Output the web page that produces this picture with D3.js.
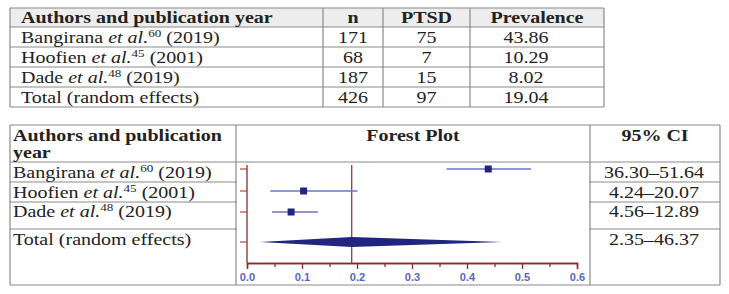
<!DOCTYPE html>
<html lang="en">
<head>
<meta charset="UTF-8" />
<title>Forest plot</title>
<style>
  body { margin: 0; background: #fff; }
  text { font-family: "Liberation Serif", serif; }
  .tick text { font-family: "Liberation Sans", sans-serif; font-weight: bold; }
</style>
</head>
<body>
<div class="chart"></div>
<script src="https://d3js.org/d3.v7.min.js"></script>
<script>
// data
const authors = ['Bangirana', 'Hoofien', 'Dade']
const refs = ['60', '45', '48']
const years = ['2019', '2001', '2019']
const nValues = [171, 68, 187]
const ptsdValues = [75, 7, 15]
const prevalence = [43.86, 10.29, 8.02]
const ciLow = [36.30, 4.24, 4.56]
const ciHigh = [51.64, 20.07, 12.89]
const totalLabel = 'Total (random effects)'
const totalN = 426
const totalPtsd = 97
const totalPrev = 19.04
const totalLow = 2.35
const totalHigh = 46.37
const xTicks = [0, 0.1, 0.2, 0.3, 0.4, 0.5, 0.6]

const width = 729
const height = 294
const lineColor = '#8a8a8a'
const axisColor = '#8b2a2a'
const navy = '#1f2580'

const svg = d3.select('.chart').append('svg')
  .attr('width', width)
  .attr('height', height)

const fs = 16
const sx = 1.25 // the source text is a little wider than the font

// draw a label with italic "et al." and superscript ref
const studyLabel = (g, i, x, y) => {
  const t = g.append('text')
    .attr('transform', `translate(${x},${y}) scale(${sx},1)`)
    .attr('font-size', fs)
    .attr('fill', '#222')
  t.append('tspan').text(authors[i] + ' ')
  t.append('tspan').attr('font-style', 'italic').text('et al.')
  t.append('tspan').attr('font-size', 10.5).attr('dy', -6).text(refs[i])
  t.append('tspan').attr('dy', 6).text(` (${years[i]})`)
}

const cellText = (g, txt, x, y, opts = {}) => {
  return g.append('text')
    .attr('transform', `translate(${x},${y}) scale(${sx},1)`)
    .attr('text-anchor', opts.anchor || 'start')
    .attr('font-size', fs)
    .attr('font-weight', opts.bold ? 'bold' : 'normal')
    .attr('fill', '#222')
    .text(txt)
}

// ===== top table =====
const topG = svg.append('g')
const tCols = [10, 323, 383, 470, 604]
const tRows = [8, 27, 47, 67, 87, 107]

topG.append('rect')
  .attr('x', tCols[0]).attr('y', tRows[0])
  .attr('width', tCols[4] - tCols[0]).attr('height', tRows[1] - tRows[0])
  .attr('fill', '#ededed')

tRows.forEach(y => {
  topG.append('line').attr('x1', tCols[0]).attr('x2', tCols[4])
    .attr('y1', y).attr('y2', y).attr('stroke', lineColor).attr('stroke-width', 1.2)
})
tCols.forEach(x => {
  topG.append('line').attr('x1', x).attr('x2', x)
    .attr('y1', tRows[0]).attr('y2', tRows[5]).attr('stroke', lineColor).attr('stroke-width', 1.2)
})

const mid = i => (tCols[i] + tCols[i + 1]) / 2
const prevX = 526
cellText(topG, 'Authors and publication year', 21, 23, { bold: true })
cellText(topG, 'n', mid(1), 23, { bold: true, anchor: 'middle' })
cellText(topG, 'PTSD', mid(2), 23, { bold: true, anchor: 'middle' })
cellText(topG, 'Prevalence', mid(3), 23, { bold: true, anchor: 'middle' })

authors.forEach((a, i) => {
  const y = tRows[i + 1] + 16
  studyLabel(topG, i, 21, y)
  cellText(topG, nValues[i], mid(1), y, { anchor: 'middle' })
  cellText(topG, ptsdValues[i], mid(2), y, { anchor: 'middle' })
  cellText(topG, prevalence[i].toFixed(2), prevX, y, { anchor: 'middle' })
})
cellText(topG, totalLabel, 21, tRows[4] + 16)
cellText(topG, totalN, mid(1), tRows[4] + 16, { anchor: 'middle' })
cellText(topG, totalPtsd, mid(2), tRows[4] + 16, { anchor: 'middle' })
cellText(topG, totalPrev.toFixed(2), prevX, tRows[4] + 16, { anchor: 'middle' })

// ===== bottom table with forest plot =====
const bot = svg.append('g')
const bCols = [10, 236, 590, 720]
const bRows = [125, 162, 182, 202, 229, 285]

bRows.forEach(y => {
  bot.append('line').attr('x1', bCols[0]).attr('x2', bCols[3])
    .attr('y1', y).attr('y2', y).attr('stroke', lineColor).attr('stroke-width', 1.2)
})
bCols.forEach(x => {
  bot.append('line').attr('x1', x).attr('x2', x)
    .attr('y1', bRows[0]).attr('y2', bRows[5]).attr('stroke', lineColor).attr('stroke-width', 1.2)
})
// the forest column has no row lines inside it
bot.append('rect')
  .attr('x', bCols[1] + 1).attr('y', bRows[1] + 1)
  .attr('width', bCols[2] - bCols[1] - 2).attr('height', bRows[5] - bRows[1] - 2)
  .attr('fill', '#fff')

cellText(bot, 'Authors and publication', 13, 141, { bold: true })
cellText(bot, 'year', 13, 158, { bold: true })
cellText(bot, 'Forest Plot', 413, 141, { bold: true, anchor: 'middle' })
cellText(bot, '95% CI', 655, 141, { bold: true, anchor: 'middle' })

const rowBase = [178, 198, 217, 245]
authors.forEach((a, i) => {
  studyLabel(bot, i, 13, rowBase[i])
  cellText(bot, `${ciLow[i].toFixed(2)}–${ciHigh[i].toFixed(2)}`, 654, rowBase[i], { anchor: 'middle' })
})
cellText(bot, totalLabel, 13, rowBase[3])
cellText(bot, `${totalLow.toFixed(2)}–${totalHigh.toFixed(2)}`, 654, rowBase[3], { anchor: 'middle' })

// scales
const x = d3.scaleLinear().domain([0, 0.6]).range([247, 577])
const rows = [...authors, 'Total']
const y = d3.scaleOrdinal().domain(rows).range([169, 191, 212, 242])

const plot = bot.append('g')

// x axis: minor + major ticks
const xAxisMinor = d3.axisBottom(x).tickValues(d3.range(0.05, 0.6, 0.1)).tickSize(4).tickFormat('')
const xAxis = d3.axisBottom(x).tickValues(xTicks).tickSize(6).tickPadding(4)
  .tickFormat(d3.format('.1f'))

plot.append('g').attr('transform', 'translate(0,263)').call(xAxisMinor)
const gx = plot.append('g').attr('transform', 'translate(0,263)').call(xAxis)
plot.selectAll('.domain').attr('stroke', axisColor).attr('stroke-width', 1.3)
plot.selectAll('.tick line').attr('stroke', axisColor).attr('stroke-width', 1.3)
gx.selectAll('.tick text').attr('fill', '#5565c5').attr('font-size', 11)

// y axis line with small ticks at each row
const yAxisG = plot.append('g')
yAxisG.append('line').attr('x1', x(0)).attr('x2', x(0))
  .attr('y1', 165).attr('y2', 263).attr('stroke', axisColor).attr('stroke-width', 1.3)
yAxisG.selectAll('line.yt').data(rows).join('line')
  .attr('class', 'yt')
  .attr('x1', x(0) - 7).attr('x2', x(0))
  .attr('y1', d => y(d)).attr('y2', d => y(d))
  .attr('stroke', '#c04040').attr('stroke-width', 1.2)

// reference line at pooled estimate
plot.append('line')
  .attr('x1', x(totalPrev / 100)).attr('x2', x(totalPrev / 100))
  .attr('y1', 165).attr('y2', 263)
  .attr('stroke', axisColor).attr('stroke-width', 1.2)

// study CIs and points
const studies = authors.map((a, i) => ({ a, p: prevalence[i] / 100, lo: ciLow[i] / 100, hi: ciHigh[i] / 100 }))
plot.selectAll('line.ci').data(studies).join('line')
  .attr('class', 'ci')
  .attr('x1', d => x(d.lo)).attr('x2', d => x(d.hi))
  .attr('y1', d => y(d.a)).attr('y2', d => y(d.a))
  .attr('stroke', '#6b72c9').attr('stroke-width', 1.3)
plot.selectAll('rect.pt').data(studies).join('rect')
  .attr('class', 'pt')
  .attr('x', d => x(d.p) - 3.5).attr('y', d => y(d.a) - 3.5)
  .attr('width', 7).attr('height', 7)
  .attr('fill', navy)

// pooled diamond
const cy = y('Total')
const pts = [[x(totalLow / 100), cy], [x(totalPrev / 100), cy - 5], [x(totalHigh / 100), cy], [x(totalPrev / 100), cy + 5]]
plot.append('path')
  .attr('d', d3.line()(pts) + 'Z')
  .attr('fill', navy)
</script>
</body>
</html>
